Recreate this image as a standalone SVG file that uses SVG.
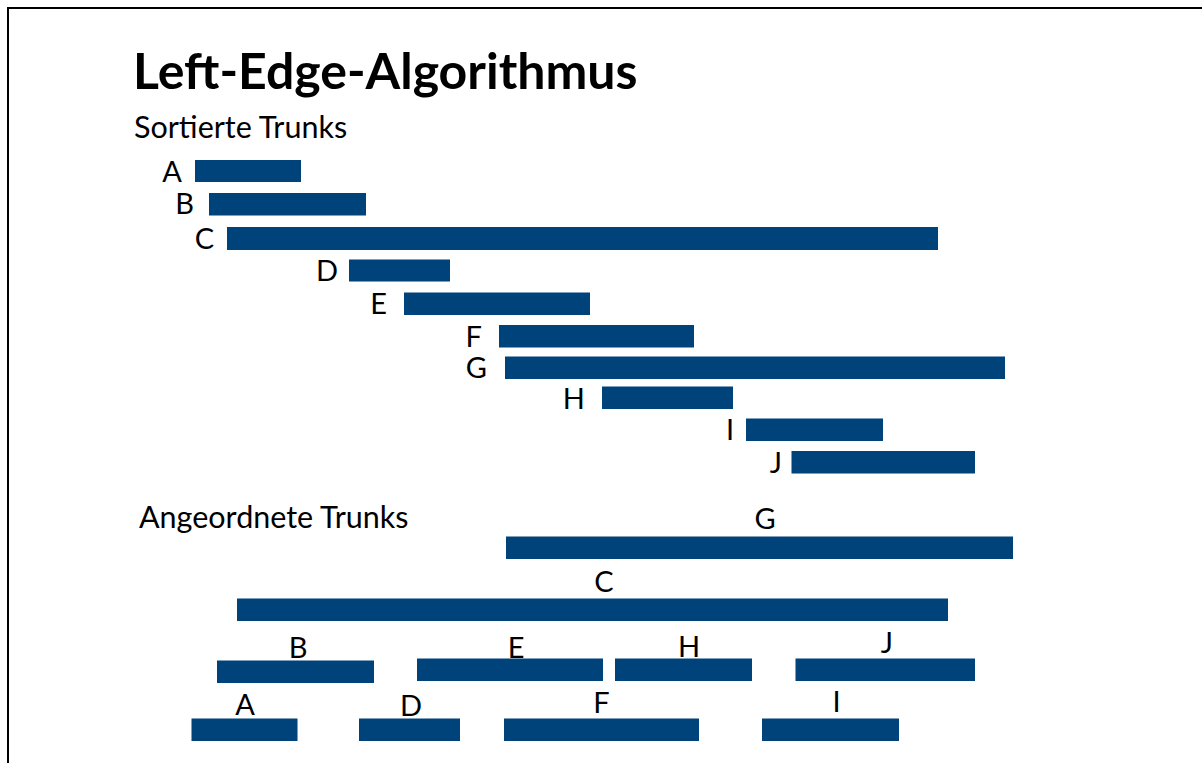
<svg xmlns="http://www.w3.org/2000/svg" width="1202" height="763" viewBox="0 0 1202 763">
<style>
.bar{fill:#00437b}
.lbl{font-family:Lato,"Liberation Sans",sans-serif;font-size:29px;fill:#000}
.end{text-anchor:end}
.mid{text-anchor:middle}
.h2{font-family:Lato,"Liberation Sans",sans-serif;font-size:30.5px;fill:#000}
.h1{font-family:Lato,"Liberation Sans",sans-serif;font-size:50px;font-weight:bold;fill:#000}
</style>
<rect x="0" y="0" width="1202" height="763" fill="#fff"/>
<rect x="8" y="8" width="1210" height="780" fill="none" stroke="#000" stroke-width="2"/>
<text class="h1" x="133" y="89">Left-Edge-Algorithmus</text>
<text class="h2" x="134" y="138">Sortierte Trunks</text>
<text class="h2" x="139" y="528">Angeordnete Trunks</text>
<g id="sorted">
<g id="sA"><rect class="bar" x="195" y="160" width="106" height="22"/><text class="lbl end" x="182" y="182">A</text></g>
<g id="sB"><rect class="bar" x="209" y="193" width="157" height="22.5"/><text class="lbl end" x="194" y="214">B</text></g>
<g id="sC"><rect class="bar" x="227" y="227" width="711" height="23"/><text class="lbl end" x="214" y="249">C</text></g>
<g id="sD"><rect class="bar" x="349" y="259.5" width="101" height="22"/><text class="lbl end" x="338" y="281">D</text></g>
<g id="sE"><rect class="bar" x="404" y="292.5" width="186" height="22.5"/><text class="lbl end" x="387" y="314">E</text></g>
<g id="sF"><rect class="bar" x="499" y="325" width="195" height="22.5"/><text class="lbl end" x="482" y="347">F</text></g>
<g id="sG"><rect class="bar" x="505" y="356.5" width="500" height="22.5"/><text class="lbl end" x="487" y="378">G</text></g>
<g id="sH"><rect class="bar" x="602" y="386.5" width="131" height="22.5"/><text class="lbl end" x="585" y="409">H</text></g>
<g id="sI"><rect class="bar" x="746" y="418.5" width="137" height="22.5"/><text class="lbl end" x="734" y="440">I</text></g>
<g id="sJ"><rect class="bar" x="791.5" y="451" width="183.5" height="22.5"/><text class="lbl end" x="782" y="472.5">J</text></g>
</g>
<g id="arranged">
<g id="aG"><rect class="bar" x="506" y="536.5" width="507" height="22.5"/><text class="lbl mid" x="765" y="529">G</text></g>
<g id="aC"><rect class="bar" x="237" y="598.5" width="711" height="22.5"/><text class="lbl mid" x="604" y="592">C</text></g>
<g id="aB"><rect class="bar" x="217" y="660.5" width="157" height="22.5"/><text class="lbl mid" x="298" y="657.5">B</text></g>
<g id="aE"><rect class="bar" x="417" y="658.5" width="186" height="22.5"/><text class="lbl mid" x="516" y="657.5">E</text></g>
<g id="aH"><rect class="bar" x="615" y="658.5" width="137" height="22.5"/><text class="lbl mid" x="689" y="656.5">H</text></g>
<g id="aJ"><rect class="bar" x="795.5" y="658.5" width="179.5" height="22.5"/><text class="lbl mid" x="887" y="653">J</text></g>
<g id="aA"><rect class="bar" x="191.5" y="718.5" width="106" height="22.5"/><text class="lbl mid" x="245" y="715">A</text></g>
<g id="aD"><rect class="bar" x="359" y="718.5" width="101" height="22.5"/><text class="lbl mid" x="411" y="716">D</text></g>
<g id="aF"><rect class="bar" x="504" y="718.5" width="195" height="22.5"/><text class="lbl mid" x="601.5" y="713">F</text></g>
<g id="aI"><rect class="bar" x="762" y="718.5" width="137" height="22.5"/><text class="lbl mid" x="836.5" y="711.5">I</text></g>
</g>
<g id="connectors"/>
</svg>
